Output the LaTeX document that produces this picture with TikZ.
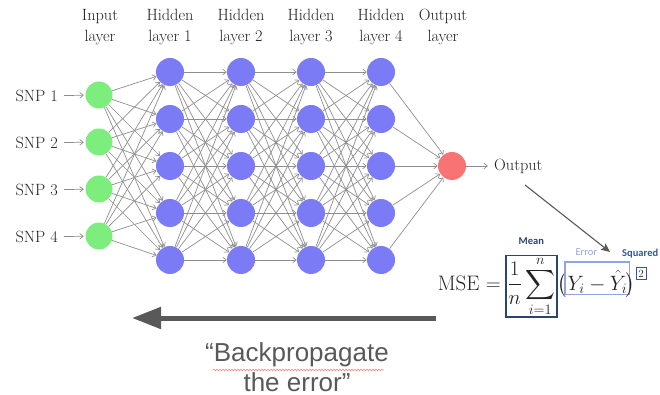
\documentclass[tikz,border=0pt]{standalone}
\usepackage{amsmath}
\usepackage{fontspec}
\newfontfamily\arialfont{Liberation Sans}
\newfontfamily\califont{Carlito}
\usetikzlibrary{arrows.meta,decorations.pathmorphing}

\definecolor{inputgreen}{HTML}{7DEE7D}
\definecolor{hiddenblue}{HTML}{7B7BF6}
\definecolor{outputred}{HTML}{F87474}
\definecolor{edgegray}{HTML}{8E8E8E}
\definecolor{arrowgray}{HTML}{595959}
\definecolor{meannavy}{HTML}{2E4470}
\definecolor{errorblue}{HTML}{8EA6D8}
\definecolor{sqblue}{HTML}{34579A}
\definecolor{inkblack}{HTML}{222222}

\begin{document}
\begin{tikzpicture}[x=1pt,y=-1pt,
  neuron/.style={circle, minimum size=28pt, inner sep=0pt},
  innode/.style={neuron, fill=inputgreen, minimum size=27pt},
  hidnode/.style={neuron, fill=hiddenblue},
  outnode/.style={neuron, fill=outputred},
  link/.style={draw=edgegray, line width=0.7pt, -{Straight Barb[length=3.5pt,width=5.5pt]}},
  serif/.style={font=\fontsize{16.3}{21}\selectfont, text=inkblack},
  header/.style={serif, align=center, anchor=north, inner sep=0pt},
  mathtext/.style={font=\fontsize{21}{25}\selectfont, text=inkblack},
  meanbox/.style={mathtext, draw=meannavy, line width=1.6pt, inner xsep=1.5pt, inner ysep=0.5pt},
  errbox/.style={mathtext, draw=errorblue, line width=1.2pt, inner xsep=2.5pt, inner ysep=0.5pt, text height=27.5pt, text depth=4pt},
  sqbox/.style={font=\fontsize{11}{13}\selectfont, text=inkblack, draw=sqblue, line width=1.2pt, inner xsep=2.3pt, inner ysep=2.3pt},
  tag/.style={font=\califont\fontsize{10.5}{12}\selectfont, inner sep=0pt},
  boldtag/.style={tag, font=\califont\bfseries\fontsize{10.5}{12}\selectfont},
]
\useasboundingbox (0,0) rectangle (660,395);

% layer headings
\foreach \x/\t [count=\k] in {100/{Input\\layer},170/{Hidden\\layer 1},241/{Hidden\\layer 2},
    311/{Hidden\\layer 3},381/{Hidden\\layer 4},443/{Output\\layer}}
  \node[header] (hdr-\k) at (\x,9) {\t};

% neurons
\foreach \i/\y in {1/95,2/142,3/189,4/236}
  \node[innode] (in-\i) at (99,\y) {};
\foreach \l/\x in {1/170,2/241,3/311,4/381}
  \foreach \j/\y in {1/72,2/119,3/166,4/213,5/260}
    \node[hidnode] (h\l-\j) at (\x,\y) {};
\node[outnode] (out) at (452,166) {};

% fully connected weights
\foreach \i in {1,...,4}
  \foreach \j in {1,...,5}
    \draw[link] (in-\i) -- (h1-\j);
\foreach \l in {1,2,3}{
  \pgfmathtruncatemacro\nxt{\l+1}
  \foreach \i in {1,...,5}
    \foreach \j in {1,...,5}
      \draw[link] (h\l-\i) -- (h\nxt-\j);
}
\foreach \i in {1,...,5}
  \draw[link] (h4-\i) -- (out);

% inputs and output
\foreach \i/\y in {1/96,2/143,3/190,4/237}{
  \node[serif, anchor=east, inner sep=6pt] (snp-\i) at (64,\y) {SNP \i};
  \draw[link, shorten >=1.5pt] (snp-\i) -- (in-\i);
}
\node[serif, anchor=west, inner sep=6pt] (outlbl) at (488,166) {Output};
\draw[link] (out) -- (outlbl);

% mean squared error
\node[mathtext, anchor=base east, inner sep=0pt] (mse) at (501,290) {MSE $=$};
\node[meanbox, anchor=base west] (mean) at (505,290) {$\displaystyle\frac{1}{n}\sum_{i=1}^{n}$};
\node[mathtext, anchor=base west, inner sep=0pt] (lp) at ([xshift=0pt]mean.base east) {$\bigl($};
\node[errbox, anchor=base west] (err) at ([xshift=-3pt]lp.base east) {$Y_i - \hat{Y}_i$};
\node[mathtext, anchor=base west, inner sep=0pt] (rp) at ([xshift=-5pt]err.base east) {$\bigr)$};
\node[sqbox, anchor=base west] (sq) at ([xshift=0.5pt,yshift=12.5pt]rp.base east) {2};

\node[boldtag, text=meannavy] (meantag) at ([yshift=13pt]mean.north) {Mean};
\node[tag, text=errorblue] (errtag) at ([xshift=-11pt,yshift=9pt]err.north) {Error};
\node[boldtag, text=sqblue] (sqtag) at ([xshift=-1pt,yshift=14pt]sq.north) {Squared};

\coordinate (diagstart) at (525,185);
\coordinate (diagend) at (610,252);
\draw[arrowgray, line width=1.1pt, -{Stealth[length=9pt,width=8pt,inset=2pt]}] (diagstart) -- (diagend);

% backpropagation
\coordinate (bpstart) at (436,318);
\coordinate (bpend) at (132,318);
\draw[arrowgray, line width=5pt, -{Triangle[length=29pt,width=21pt]}] (bpstart) -- (bpend);
\node[font=\arialfont\fontsize{26}{30}\selectfont, text=arrowgray, align=center, anchor=north, inner sep=0pt]
  (bptext) at (297,342) {“Backpropagate\\the error”};
\draw[red!55, line width=0.5pt, decorate, decoration={snake, amplitude=0.9pt, segment length=3pt}]
  ([xshift=8pt,yshift=-28pt]bptext.north west) -- ([xshift=-5pt,yshift=-28pt]bptext.north east);
\end{tikzpicture}
\end{document}
